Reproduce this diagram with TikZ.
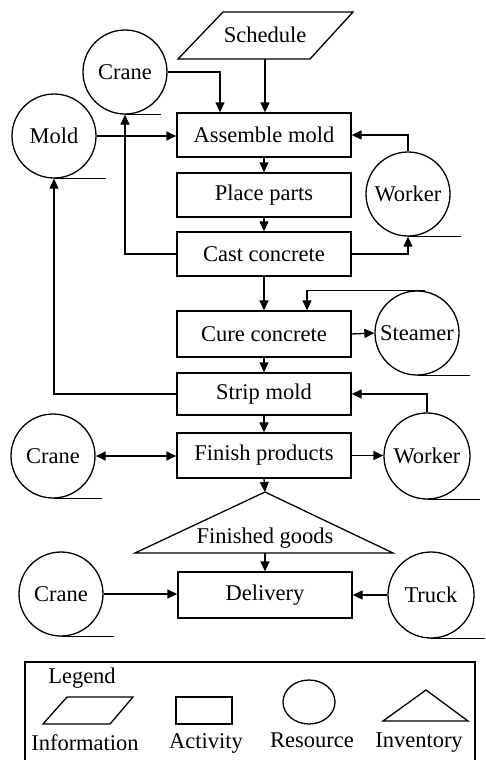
\documentclass[tikz,border=0pt]{standalone}
\usepackage{fontspec}
\setmainfont{Liberation Serif}
\usetikzlibrary{arrows.meta}
\begin{document}
\begin{tikzpicture}[x=1pt,y=-1pt,
  line width=1.3pt,
  every node/.style={font=\fontsize{22.5}{26}\selectfont},
  act/.style={draw, minimum width=174pt, minimum height=44pt, inner sep=0pt},
  res/.style={draw, circle, minimum size=84pt, inner sep=0pt},
  arr/.style={-{Triangle[length=10pt,width=9pt]}},
  darr/.style={{Triangle[length=10pt,width=9pt]}-{Triangle[length=10pt,width=9pt]}},
  txt/.style={inner sep=0pt}
]
\useasboundingbox (0,0) rectangle (485,760);

% information
\draw (178,59) -- (223,12) -- (353,12) -- (310,59) -- cycle;
\node[txt] (sched) at (265,35) {Schedule};
\coordinate (schedB) at (265,59);

% activities
\node[act] (asm)   at (264,135) {Assemble mold};
\node[act] (place) at (264,195) {Place parts};
\node[act] (cast)  at (264,254) {Cast concrete};
\node[act, minimum height=46pt] (cure)  at (264,334) {Cure concrete};
\node[act, minimum height=42pt] (strip) at (264,394) {Strip mold};
\node[act, minimum height=45pt] (finish) at (264,455.5) {Finish products};
\node[act, minimum height=46pt] (deliv) at (265,595) {Delivery};

% resources
\node[res] (crane1) at (125,72) {Crane};
\node[res] (mold) at (54,136) {Mold};
\node[res] (worker1) at (408,194) {Worker};
\node[res] (steamer) at (417,333) {Steamer};
\node[res] (crane2) at (53,456) {Crane};
\node[res, minimum size=86pt] (worker2) at (427,456) {Worker};
\node[res] (crane3) at (61,594) {Crane};
\node[res, minimum size=86pt] (truck) at (431,595) {Truck};

% resource tails
\draw (crane1.south) -- ++(36,0);
\draw (mold.south) -- ++(52,0);
\draw (worker1.south) -- ++(53,0);
\draw (steamer.south) -- ++(53,0);
\draw (crane2.south) -- ++(49,0);
\draw (worker2.south) -- ++(53,0);
\draw (crane3.south) -- ++(53,0);
\draw (truck.south) -- ++(54,0);

% inventory
\coordinate (fgTop) at (265,492);
\draw (135,553) -- (fgTop) -- (393,553) -- cycle;
\node[txt] (fg) at (265,538) {Finished goods};
\coordinate (fgBase) at (265,553);

% connectors
\draw[arr] (schedB) -- (schedB |- asm.north);
\draw[arr] (crane1.east) -| ([xshift=-44pt]asm.north);
\draw[arr] (mold.east) -- (mold.east -| asm.west);
\draw[arr] (worker1.north) |- (asm.east);
\draw[arr] (asm) -- (place);
\draw[arr] (place) -- (cast);
\draw[arr] (cast.west) -| (crane1.south);
\draw[arr] (cast.east) -| (worker1.south);
\draw[arr] (cast) -- (cure);
\draw[arr] ([xshift=8pt]steamer.north) -| ([xshift=43pt]cure.north);
\draw[arr] (cure.east) -- (steamer.west);
\draw[arr] (cure) -- (strip);
\draw[arr] (strip.west) -| (mold.south);
\draw[arr] (worker2.north) |- (strip.east);
\draw[arr] (strip) -- (finish);
\draw[darr] (crane2.east) -- (crane2.east -| finish.west);
\draw[arr] (finish.east) -- (finish.east -| worker2.west);
\draw[arr] (finish.south) -- (fgTop);
\draw[arr] (fgBase) -- (deliv.north);
\draw[arr] (crane3.east) -- (crane3.east -| deliv.west);
\draw[arr] (truck.west) -- (deliv.east);

% legend
\draw (25,770) -- (25,662) -- (475,662) -- (475,770);
\node[txt] (legend) at (82,678) {Legend};
\draw (43,724) -- (67,697) -- (133,697) -- (110,724) -- cycle;
\draw (176,697) rectangle (232,724);
\draw (309,702) ellipse [x radius=26, y radius=22];
\draw (383,721) -- (426,690) -- (468,721) -- cycle;
\node[txt] (linfo) at (85,743) {Information};
\node[txt] (lact) at (206,743) {Activity};
\node[txt] (lres) at (312,740) {Resource};
\node[txt] (linv) at (419,743) {Inventory};
\end{tikzpicture}
\end{document}
